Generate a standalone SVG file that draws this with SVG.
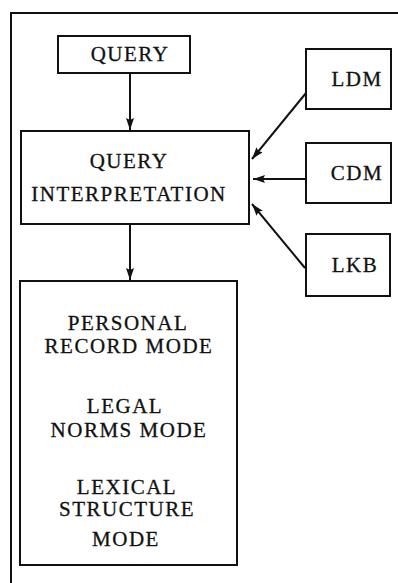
<svg xmlns="http://www.w3.org/2000/svg" width="398" height="583" viewBox="0 0 398 583">
  <defs>
    <marker id="arrow" viewBox="0 0 12 8" refX="12" refY="4" markerWidth="12" markerHeight="8" markerUnits="userSpaceOnUse" orient="auto">
      <path d="M0,0 L12,4 L0,8 L2,4 Z" fill="#111"/>
    </marker>
    <style>
      .box { fill: #fff; stroke: #111; stroke-width: 2; }
      .frame { fill: none; stroke: #111; stroke-width: 2; }
      .conn { stroke: #111; stroke-width: 2; fill: none; marker-end: url(#arrow); }
      text { font-family: "Liberation Serif", "Times New Roman", serif; font-size: 21px; fill: #111; stroke: #111; stroke-width: 0.3; text-anchor: middle; letter-spacing: 1.5px; }
    </style>
  </defs>

  <rect width="398" height="583" fill="#fff"/>

  <!-- outer frame, open to the right and bottom -->
  <path class="frame" d="M11,583 L11,13 L398,13"/>

  <g id="query">
    <rect class="box" x="58" y="36" width="132" height="37"/>
    <text x="130" y="61">QUERY</text>
  </g>

  <g id="query-interpretation">
    <rect class="box" x="21" y="131" width="228" height="93"/>
    <text x="129" y="168">QUERY</text>
    <text x="129" y="201">INTERPRETATION</text>
  </g>

  <g id="ldm">
    <rect class="box" x="306" y="49" width="85" height="60"/>
    <text x="357" y="86">LDM</text>
  </g>

  <g id="cdm">
    <rect class="box" x="306" y="143" width="85" height="60"/>
    <text x="357" y="180">CDM</text>
  </g>

  <g id="lkb">
    <rect class="box" x="306" y="234" width="84" height="62"/>
    <text x="355" y="272">LKB</text>
  </g>

  <g id="modes">
    <rect class="box" x="20" y="281" width="217" height="284"/>
    <text x="128" y="330">PERSONAL</text>
    <text x="129" y="353">RECORD MODE</text>
    <text x="125" y="413">LEGAL</text>
    <text x="129" y="437">NORMS MODE</text>
    <text x="127" y="494">LEXICAL</text>
    <text x="127" y="516">STRUCTURE</text>
    <text x="126" y="546">MODE</text>
  </g>

  <g id="connectors">
    <line class="conn" x1="130" y1="73" x2="130" y2="130"/>
    <line class="conn" x1="306" y1="93" x2="252" y2="159"/>
    <line class="conn" x1="306" y1="179" x2="253" y2="179"/>
    <line class="conn" x1="305" y1="268" x2="252" y2="204"/>
    <line class="conn" x1="130" y1="224" x2="130" y2="280"/>
  </g>
</svg>
